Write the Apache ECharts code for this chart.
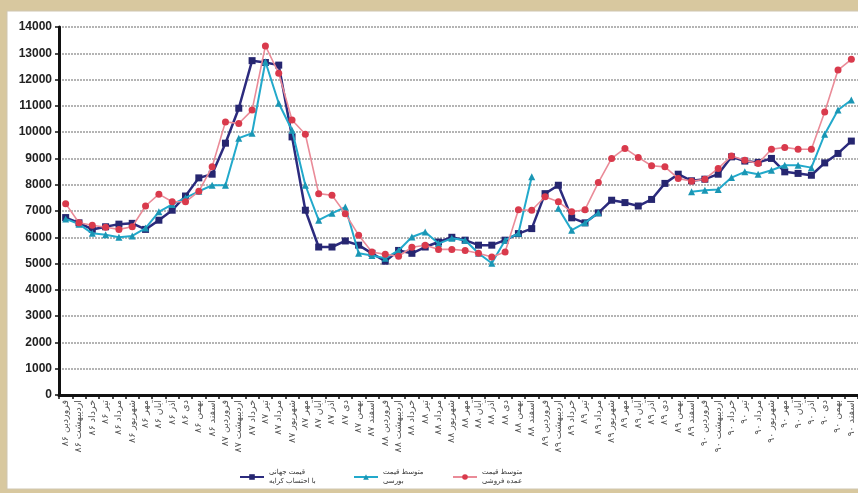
<!DOCTYPE html>
<html>
<head>
<meta charset="utf-8">
<script src="https://cdn.jsdelivr.net/npm/echarts@6/dist/echarts.min.js"></script>
<style>
  html, body { margin: 0; padding: 0; background: #d8c89f; }
  #chart { width: 858px; height: 493px; }
</style>
</head>
<body>
<div id="chart"></div>
<script>
// Persian calendar months and years (1386–1390)
const months = ['فروردین', 'اردیبهشت', 'خرداد', 'تیر', 'مرداد', 'شهریور', 'مهر', 'آبان', 'آذر', 'دی', 'بهمن', 'اسفند'];
const years = ['۸۶', '۸۷', '۸۸', '۸۹', '۹۰'];

// Y axis ticks
const yMin = 0;
const yMax = 14000;
const yStep = 1000;

// World price including freight
const worldPrice = [
  6750, 6550, 6300, 6400, 6500, 6530, 6300, 6650, 7030, 7570, 8260, 8400,
  9580, 10910, 12720, 12650, 12550, 9820, 7030, 5630, 5630, 5860, 5700, 5390,
  5090, 5500, 5390, 5630, 5820, 6000, 5890, 5700, 5700, 5890, 6140, 6330,
  7660, 7980, 6740, 6550, 6930, 7410, 7320, 7190, 7440, 8050, 8400, 8150,
  8210, 8400, 9060, 8900, 8850, 9000, 8490, 8430, 8360, 8830, 9190, 9660
];

// Average exchange price (no trading for part of 1389)
const exchangePrice = [
  6700, 6500, 6150, 6100, 6000, 6050, 6350, 6970, 7250, 7500, 7750, 7980,
  7980, 9770, 9960, 12680, 11100, 10070, 7980, 6650, 6910, 7150, 5390, 5310,
  5200, 5500, 6010, 6200, 5760, 5960, 5890, 5390, 5010, 5890, 6150, 8300,
  null, 7100, 6270, 6550, 6930, null, null, null, null, null, null, 7730,
  7790, 7820, 8270, 8490, 8400, 8550, 8740, 8740, 8650, 9920, 10840, 11220
];

// Average wholesale price
const wholesalePrice = [
  7280, 6550, 6460, 6380, 6300, 6400, 7190, 7640, 7350, 7350, 7750, 8680,
  10390, 10330, 10840, 13280, 12240, 10460, 9920, 7660, 7600, 6900, 6080, 5440,
  5350, 5280, 5620, 5700, 5540, 5540, 5500, 5390, 5250, 5440, 7050, 7030,
  7540, 7350, 6970, 7050, 8080, 9000, 9380, 9040, 8720, 8680, 8240, 8130,
  8210, 8620, 9090, 8930, 8810, 9350, 9420, 9350, 9350, 10770, 12360, 12770
];

const seriesNames = ['قیمت جهانی\nبا احتساب کرایه', 'متوسط قیمت\nبورسی', 'متوسط قیمت\nعمده فروشی'];

const categories = [];
years.forEach(y => months.forEach(m => categories.push(m + ' ' + y)));

const chart = echarts.init(document.getElementById('chart'), null, { renderer: 'canvas' });

const legendText = { fontSize: 7, color: '#333', fontFamily: 'DejaVu Sans', lineHeight: 9 };

chart.setOption({
  animation: false,
  backgroundColor: '#d8c89f',
  graphic: [
    { type: 'rect', shape: { x: 7, y: 11, width: 860, height: 478 },
      style: { fill: '#ffffff', stroke: '#cfc6b0', lineWidth: 1 }, z: -10 }
  ],
  grid: { left: 59, right: -1, top: 27, bottom: 98 },
  legend: [
    { data: [seriesNames[0]], left: 234, top: 463, itemWidth: 24, itemHeight: 7, textStyle: legendText },
    { data: [seriesNames[1]], left: 348, top: 463, itemWidth: 24, itemHeight: 7, textStyle: legendText },
    { data: [seriesNames[2]], left: 447, top: 463, itemWidth: 24, itemHeight: 7, textStyle: legendText }
  ],
  xAxis: {
    type: 'category',
    data: categories,
    boundaryGap: true,
    axisLine: { lineStyle: { color: '#111', width: 3 } },
    axisTick: { show: true, length: 4, lineStyle: { color: '#111', width: 1.5 } },
    axisLabel: {
      interval: 0, rotate: 90, fontSize: 9.5, color: '#555',
      fontFamily: 'DejaVu Sans', margin: 5
    },
    splitLine: { show: false }
  },
  yAxis: {
    type: 'value',
    min: yMin, max: yMax, interval: yStep,
    axisLine: { show: true, lineStyle: { color: '#111', width: 3 } },
    axisTick: { show: true, length: 4, lineStyle: { color: '#111', width: 1.5 } },
    axisLabel: {
      fontSize: 12, fontWeight: 'bold', color: '#222', fontFamily: 'Liberation Sans', margin: 7,
      formatter: v => String(v)
    },
    splitLine: { lineStyle: { color: '#b4b4b4', width: 2, type: [2, 1] } }
  },
  series: [
    {
      name: seriesNames[0], type: 'line', data: worldPrice,
      symbol: 'rect', symbolSize: 7,
      lineStyle: { color: '#2c2b7e', width: 2.5 },
      itemStyle: { color: '#262670' },
      z: 3
    },
    {
      name: seriesNames[1], type: 'line', data: exchangePrice,
      symbol: 'triangle', symbolSize: 7,
      lineStyle: { color: '#22a9cb', width: 2 },
      itemStyle: { color: '#1a96b4' },
      z: 4
    },
    {
      name: seriesNames[2], type: 'line', data: wholesalePrice,
      symbol: 'circle', symbolSize: 7,
      lineStyle: { color: '#ea8b98', width: 1.6 },
      itemStyle: { color: '#d93a4c' },
      z: 5
    }
  ]
});
</script>
</body>
</html>
